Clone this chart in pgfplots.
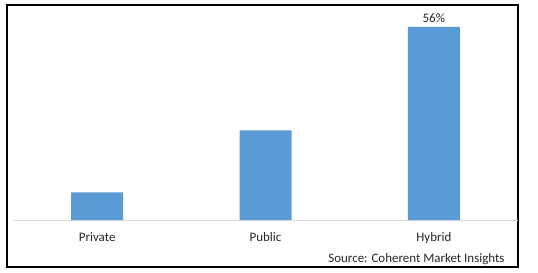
\documentclass[border=0pt]{standalone}
\usepackage{pgfplots}
\pgfplotsset{compat=1.18}
\usepackage{fontspec}
\setmainfont{Carlito}
\definecolor{barblue}{HTML}{5B9BD5}
\definecolor{axisgray}{HTML}{D9D9D9}
\begin{document}
\begin{tikzpicture}[x=1bp,y=1bp]
\path[use as bounding box] (0,0) rectangle (538,272);
\draw[black, line width=1.2bp] (7,5) rectangle (518,267);
\begin{axis}[
  at={(13bp,52bp)}, anchor=south west,
  scale only axis, width=505bp, height=207bp,
  xmin=-0.5, xmax=2.5, ymin=0, ymax=60,
  axis x line*=bottom, axis y line=none,
  x axis line style={axisgray, line width=1bp, -},
  xtick=data, xticklabels={Private,Public,Hybrid},
  major tick length=0pt,
  xticklabel style={font=\fontsize{13}{15}\selectfont, color=black!85, yshift=-9bp},
  ybar, bar width=52bp,
  nodes near coords, point meta=explicit symbolic,
  every node near coord/.append style={font=\fontsize{13}{15}\selectfont, color=black!85, yshift=1bp},
  clip=false,
]
\addplot[fill=barblue, draw=none] coordinates {(0,8) [] (1,26) [] (2,56) [56\%]};
\end{axis}
\node[anchor=east, font=\fontsize{13}{15}\selectfont, color=black!85] at (508,13) {Source: Coherent Market Insights};
\end{tikzpicture}
\end{document}
